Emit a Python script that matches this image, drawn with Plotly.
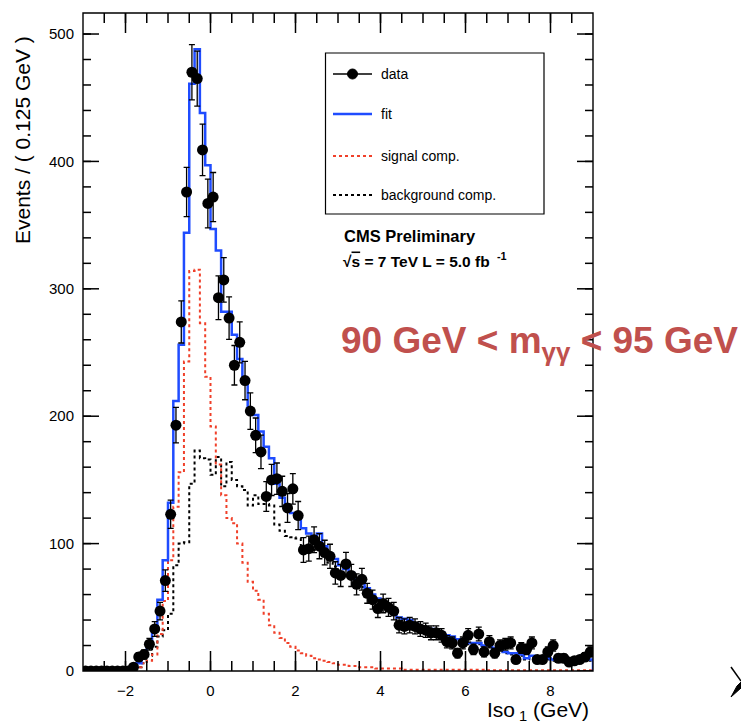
import math
import plotly.graph_objects as go

# ---------------- data ----------------
bin_lo, bin_hi, bin_w = -3.0, 9.0, 0.125

data_counts = [0, 0, 0, 0, 0, 0, 0, 0, 0,
               3, 11, 13, 21, 33, 47, 71, 123, 193, 274,
               376, 470, 465, 409, 367, 372, 293, 307, 277, 240,
               258, 228, 204, 185, 172, 137, 150, 151, 141, 128,
               143, 122, 95, 96, 103, 98, 93, 90, 77, 75,
               84, 75, 68, 72, 61, 56, 49, 53, 50, 47,
               36, 35, 36, 35, 33, 32, 30, 30, 28, 23,
               22, 14, 22, 28, 17, 29, 15, 23, 14, 20,
               21, 22, 9, 18, 17, 22, 9, 9, 15, 20,
               10, 10, 7, 8, 9, 11, 15]

fit_vals = [0, 0, 0, 0, 0, 0, 0, 0, 0,
            2, 6, 12, 20, 32, 56, 87, 132, 212, 256,
            344, 461, 488, 438, 397, 347, 330, 282, 282, 264,
            245, 228, 205, 201, 188, 176, 167, 147, 136, 128,
            124, 120, 112, 108, 105, 108, 98, 92, 88, 83,
            80, 77, 72, 69, 65, 60, 57, 52, 50, 47,
            42, 41, 40, 37, 35, 34, 33, 32, 30, 28,
            27, 25, 23, 22, 22, 22, 20, 20, 18, 17,
            15, 14, 14, 13, 10, 12, 11, 10, 10, 9,
            9, 9, 9, 9, 9, 9, 9]

sig_vals = [0, 0, 0, 0, 0, 0, 0, 0, 0,
            1, 3, 6, 8, 13, 29, 55, 87, 129, 156,
            243, 314, 315, 273, 231, 192, 162, 138, 120, 116,
            100, 85, 70, 63, 56, 45, 36, 30, 26, 22,
            19, 16, 14, 12, 10, 9, 8, 7, 6, 5,
            5, 4, 4, 3, 3, 3, 2, 2, 2, 2,
            2, 1, 1, 1, 1, 1, 1, 1, 1, 1,
            1, 1, 1, 1, 1, 1, 1, 0.5, 0.5, 0.5,
            0.5, 0.5, 0.5, 0.5, 0.5, 0.5, 0.5, 0.5, 0.5, 0.5,
            0.5, 0.5, 0.5, 0.5, 0.5, 0.5, 0.5]

bkg_vals = [0, 0, 0, 0, 0, 0, 0, 0, 0,
            1, 3, 6, 12, 19, 27, 32, 45, 83, 100,
            101, 147, 173, 167, 166, 154, 168, 145, 164, 150,
            145, 142, 130, 138, 131, 131, 130, 115, 110, 106,
            105, 104, 98, 96, 95, 99, 90, 85, 82, 78,
            75, 73, 68, 66, 62, 57, 55, 50, 48, 45,
            40, 40, 39, 36, 34, 33, 32, 31, 29, 27,
            26, 24, 22, 21, 21, 21, 19, 19, 17, 16,
            14, 13, 13, 12, 9, 11, 10, 9, 9, 8,
            8, 8, 8, 8, 8, 8, 8]

x_major_ticks = [-2, 0, 2, 4, 6, 8]
y_major_ticks = [0, 100, 200, 300, 400, 500]
x_minor_step = 0.5
y_minor_step = 20
y_max = 516.5

legend_labels = ["data", "fit", "signal comp.", "background comp."]

# ---------------- derived bin geometry ----------------
n_bins = len(data_counts)
centers = [bin_lo + bin_w * (i + 0.5) for i in range(n_bins)]
edges = [bin_lo + bin_w * i for i in range(n_bins + 1)]
errors = [math.sqrt(c) for c in data_counts]


def step_xy(vals):
    xs = edges + [bin_hi]
    ys = list(vals) + [vals[-1], 0]
    return xs, ys


FONT = "Liberation Sans, Arial, Helvetica, sans-serif"
BLUE = "#1f4cff"
RED = "#f0402a"
TICKW = 1.5

W, H = 741, 727
ML, MR, MT, MB = 83, 148, 13, 56
PW, PH = W - ML - MR, H - MT - MB


def X(px):
    return (px - ML) / PW


def Y(py):
    return (H - MB - py) / PH


fig = go.Figure()

bx, by = step_xy(bkg_vals)
fig.add_trace(go.Scatter(x=bx, y=by, mode="lines", line_shape="hv",
                         line=dict(color="black", width=2, dash="3px,3px"),
                         showlegend=False, hoverinfo="skip"))
sx, sy = step_xy(sig_vals)
fig.add_trace(go.Scatter(x=sx, y=sy, mode="lines", line_shape="hv",
                         line=dict(color=RED, width=2, dash="3px,3px"),
                         showlegend=False, hoverinfo="skip"))
fx, fy = step_xy(fit_vals)
fig.add_trace(go.Scatter(x=fx, y=fy, mode="lines", line_shape="hv",
                         line=dict(color=BLUE, width=2.5),
                         showlegend=False, hoverinfo="skip"))
fig.add_trace(go.Scatter(x=centers, y=data_counts, mode="markers",
                         marker=dict(color="black", size=11),
                         error_y=dict(type="data", array=errors, visible=True,
                                      color="black", thickness=1.3, width=3),
                         showlegend=False))

tickfont = dict(family=FONT, size=15, color="black")
fig.update_layout(
    template="none",
    xaxis=dict(range=[bin_lo, bin_hi], tickmode="array", tickvals=x_major_ticks,
               ticks="", showgrid=False, zeroline=False, showline=False,
               tickfont=tickfont, ticklabelstandoff=9),
    yaxis=dict(range=[0, y_max], tickmode="array", tickvals=y_major_ticks,
               ticks="", showgrid=False, zeroline=False, showline=False,
               tickfont=tickfont, ticklabelstandoff=8),
)

shapes = []
annotations = []

# ---- ROOT-style inside ticks on all four sides (positioned through the axes) ----
tick_line = dict(color="black", width=TICKW)
n_xminor = int(round((bin_hi - bin_lo) / x_minor_step))
x_minor_ticks = [bin_lo + x_minor_step * k for k in range(1, n_xminor)]
n_yminor = int(y_max // y_minor_step)
y_minor_ticks = [y_minor_step * k for k in range(1, n_yminor + 1)]


def x_ticks(vals, length_px):
    f = length_px / PH
    for v in vals:
        shapes.append(dict(type="line", xref="x", yref="paper", x0=v, x1=v,
                           y0=0, y1=f, line=tick_line, layer="above"))
        shapes.append(dict(type="line", xref="x", yref="paper", x0=v, x1=v,
                           y0=1, y1=1 - f, line=tick_line, layer="above"))


def y_ticks(vals, length_px):
    f = length_px / PW
    for v in vals:
        shapes.append(dict(type="line", xref="paper", yref="y", x0=0, x1=f,
                           y0=v, y1=v, line=tick_line, layer="above"))
        shapes.append(dict(type="line", xref="paper", yref="y", x0=1, x1=1 - f,
                           y0=v, y1=v, line=tick_line, layer="above"))


x_ticks(x_minor_ticks, 10)
x_ticks(x_major_ticks, 20)
y_ticks(y_minor_ticks, 8)
y_ticks(y_major_ticks, 16)

# plot frame
shapes.append(dict(type="rect", xref="paper", yref="paper", x0=0, x1=1, y0=0, y1=1,
                   line=dict(color="black", width=1.4), layer="above"))

# legend box
shapes.append(dict(type="rect", xref="paper", yref="paper",
                   x0=X(325.5), x1=X(544), y0=Y(53), y1=Y(214),
                   line=dict(color="black", width=1.2), fillcolor="white"))
leg_y = [74, 114, 156, 195]
leg_styles = [dict(color="black", width=1.3),
              dict(color=BLUE, width=2.5),
              dict(color=RED, width=2, dash="3px,3px"),
              dict(color="black", width=2, dash="3px,3px")]
for yy, st, lab in zip(leg_y, leg_styles, legend_labels):
    shapes.append(dict(type="line", xref="paper", yref="paper",
                       x0=X(333), x1=X(372), y0=Y(yy), y1=Y(yy), line=st))
    annotations.append(dict(xref="paper", yref="paper", x=X(379), y=Y(yy),
                            xanchor="left", yanchor="middle", showarrow=False,
                            text=lab, font=dict(family=FONT, size=14, color="black")))
shapes.append(dict(type="circle", xref="paper", yref="paper",
                   x0=X(347.5), x1=X(357.5), y0=Y(69), y1=Y(79),
                   fillcolor="black", line=dict(color="black", width=1)))

# CMS labels
annotations.append(dict(xref="paper", yref="paper", x=X(342), y=Y(236),
                        xanchor="left", yanchor="middle", showarrow=False,
                        text="<b>CMS Preliminary</b>",
                        font=dict(family=FONT, size=16.5, color="black")))
annotations.append(dict(xref="paper", yref="paper", x=X(341), y=Y(260),
                        xanchor="left", yanchor="middle", showarrow=False,
                        text="<b>√<span style='text-decoration:overline'>s</span>"
                             " = 7 TeV L = 5.0 fb <sup> -1</sup></b>",
                        font=dict(family=FONT, size=15.5, color="black")))

# big red mass-window label
annotations.append(dict(xref="paper", yref="paper", x=X(339), y=Y(343),
                        xanchor="left", yanchor="middle", showarrow=False,
                        text="<b>90 GeV &lt; m<sub>γγ</sub> &lt; 95 GeV</b>",
                        font=dict(family=FONT, size=37, color="#c0504d")))

# axis titles
annotations.append(dict(xref="paper", yref="paper", x=X(22), y=Y(140),
                        xanchor="center", yanchor="middle", showarrow=False,
                        textangle=-90, text="Events / ( 0.125 GeV )",
                        font=dict(family=FONT, size=21, color="black")))
annotations.append(dict(xref="paper", yref="paper", x=X(591), y=Y(711),
                        xanchor="right", yanchor="middle", showarrow=False,
                        text="Iso<sub> 1</sub> (GeV)",
                        font=dict(family=FONT, size=21, color="black")))

# small cropped glyph at the bottom-right corner
upper = [(731, 667), (741, 681)]
shapes.append(dict(type="line", xref="paper", yref="paper",
                   x0=X(upper[0][0]), y0=Y(upper[0][1]),
                   x1=X(upper[1][0]), y1=Y(upper[1][1]),
                   line=dict(color="black", width=1.5)))
lower = [(741, 682), (741, 688), (731, 697), (737, 686)]
path = "M " + " L ".join(f"{X(a):.5f},{Y(b):.5f}" for a, b in lower) + " Z"
shapes.append(dict(type="path", xref="paper", yref="paper", path=path,
                   fillcolor="black", line=dict(color="black", width=1)))

fig.update_layout(width=W, height=H,
                  margin=dict(l=ML, r=MR, t=MT, b=MB, pad=0),
                  paper_bgcolor="white", plot_bgcolor="white",
                  font=dict(family=FONT, color="black"),
                  shapes=shapes, annotations=annotations, showlegend=False)

fig.write_html("out.html")
